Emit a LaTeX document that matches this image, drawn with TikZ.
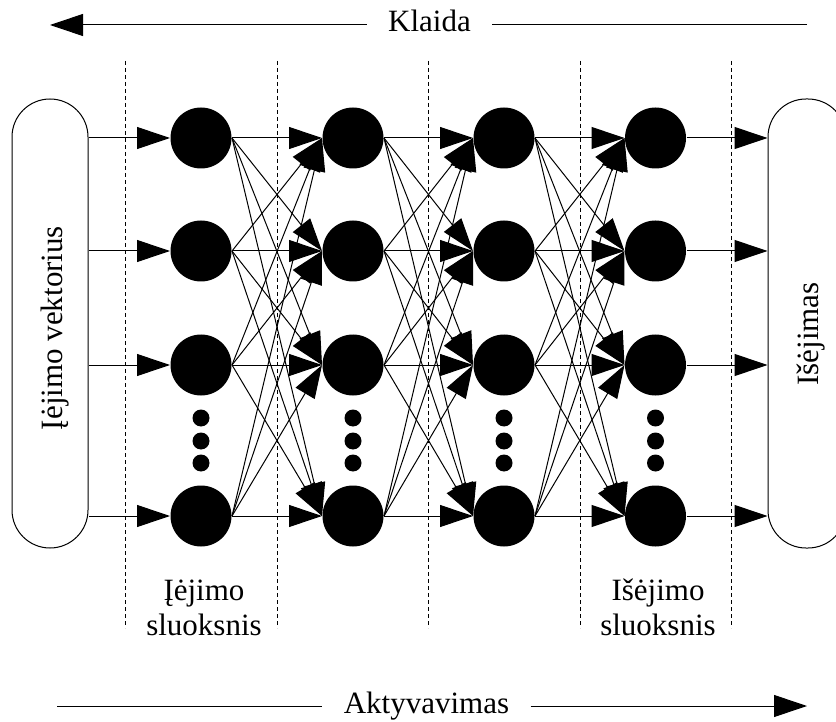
\documentclass[tikz,border=0pt]{standalone}
\usepackage{fontspec}
\setmainfont{Liberation Serif}
\usetikzlibrary{arrows.meta}
\begin{document}
\begin{tikzpicture}[x=1pt,y=-1pt,line width=1pt,
    >={Triangle[length=33pt,width=22pt]},
    every node/.style={font=\fontsize{31}{35}\selectfont},
    neuron/.style={circle,fill,inner sep=0pt,minimum size=61pt},
    dot/.style={circle,fill,inner sep=0pt,minimum size=17pt},
    vec/.style={draw,rounded corners=38pt,minimum width=76pt,minimum height=449pt}]
    \clip (0,0) rectangle (836,722);
    \foreach \x in {125,277,428,580,731}
        \draw[dash pattern=on 4pt off 3pt,line width=0.8pt] (\x,61) -- (\x,628);
    \node[vec] (in) at (50,323.5) {};
    \node[vec,minimum width=78pt] (out) at (807,323.5) {};
    \node[rotate=90,anchor=base] (intxt) at (62,328) {Įėjimo vektorius};
    \node[rotate=90,anchor=base] (outtxt) at (818,334) {Išėjimas};
    \foreach \c/\x in {1/201,2/353,3/504,4/655.5}{
        \foreach \r/\y in {1/138,2/251,3/365,4/516}
            \node[neuron] (n\c\r) at (\x,\y) {};
        \foreach \d/\y in {1/418,2/441,3/463}
            \node[dot] (d\c\d) at (\x,\y) {};
    }
    \foreach \r in {1,...,4}{
        \draw[->] (in.east |- n1\r) -- (n1\r.west);
        \draw[->] (n4\r.east) -- (out.west |- n4\r);
    }
    \foreach \c/\nx in {1/2,2/3,3/4}
        \foreach \a in {1,...,4}
            \foreach \b in {1,...,4}
                \draw[->] (n\c\a.east) -- (n\nx\b.west);
    \node[align=center,anchor=base] (inlbl) at (204,635) {Įėjimo\\sluoksnis};
    \node[align=center,anchor=base] (outlbl) at (658,635) {Išėjimo\\sluoksnis};
    \node[anchor=base,inner xsep=21pt] (err) at (429.5,32) {Klaida};
    \coordinate (errl) at (50,25);
    \coordinate (errr) at (807,25);
    \draw (errr) -- (errr -| err.east);
    \draw[->] (errl -| err.west) -- (errl);
    \node[anchor=base,inner xsep=21pt] (act) at (426.5,713) {Aktyvavimas};
    \coordinate (actl) at (57,706);
    \coordinate (actr) at (807,706);
    \draw (actl) -- (actl -| act.west);
    \draw[->] (actr -| act.east) -- (actr);
\end{tikzpicture}
\end{document}
